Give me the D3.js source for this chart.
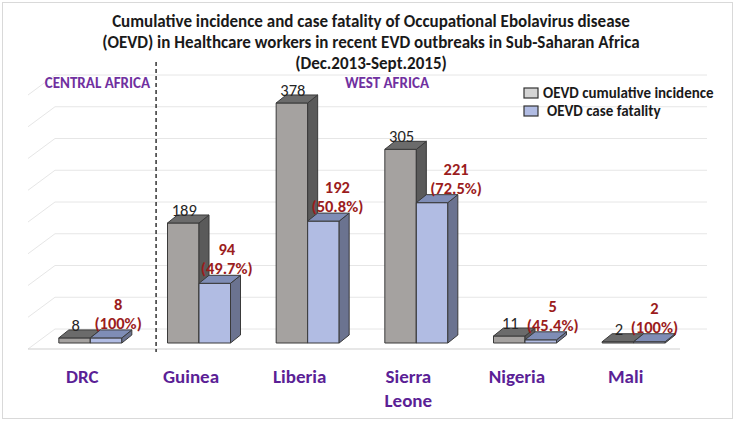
<!DOCTYPE html>
<html>
<head>
<meta charset="utf-8">
<script src="https://cdn.jsdelivr.net/npm/d3@7"></script>
<style>
  html, body { margin: 0; padding: 0; background: #fff; }
  svg { display: block; }
  text { font-family: Carlito, Lato, "Open Sans", sans-serif; }
</style>
</head>
<body>
<svg id="chart" width="735" height="421"></svg>
<script>
// ---- data ----
const categories = ["DRC", "Guinea", "Liberia", "Sierra Leone", "Nigeria", "Mali"];
const incidence = [8, 189, 378, 305, 11, 2];
const fatality = [8, 94, 192, 221, 5, 2];
const fatalityPct = ["100%", "49.7%", "50.8%", "72.5%", "45.4%", "100%"];
const regions = ["CENTRAL AFRICA", "WEST AFRICA"];
const seriesNames = ["OEVD cumulative incidence", "OEVD case fatality"];
const gridValues = [0, 50, 100, 150, 200, 250, 300, 350, 400];
const titleLines = [
  "Cumulative incidence and case fatality of Occupational Ebolavirus disease",
  "(OEVD) in Healthcare workers in recent EVD outbreaks in Sub-Saharan Africa",
  "(Dec.2013-Sept.2015)"
];
// small per-label horizontal nudges of the red fatality labels (as in the original)
const redLabelNudge = [12, 12, 14, 24, 12, 5];

// ---- layout ----
const svg = d3.select("#chart");
const W = 735, H = 421;
const baseY = 343;          // front base of bars
const plotX0 = 36, plotX1 = 688;
const depth = { dx: 10, dy: -8 };       // bar depth
const floorFront = { dx: -8, dy: 6 };   // floor front edge relative to bar front
const wallBack = { dx: 19, dy: -14 };   // back wall relative to bar front

const y = d3.scaleLinear().domain([0, 400]).range([baseY, baseY - 254]);
const x0 = d3.scaleBand().domain(categories).range([plotX0, plotX1]).paddingInner(0).paddingOuter(0);
const x1 = d3.scaleBand().domain([0, 1]).range([0, 63]);
const barOffset = (x0.bandwidth() - 63) / 2;

const colors = [
  { front: "#a5a2a0", side: "#5a5a5a", top: "#6b6b6b" },
  { front: "#b1bce3", side: "#6b7390", top: "#7f8db6" }
];

// border
svg.append("rect").attr("x", 2.5).attr("y", 2.5).attr("width", W - 5).attr("height", H - 5)
  .attr("fill", "#fff").attr("stroke", "#d9d9d9");

// title
svg.append("g").selectAll("text").data(titleLines).join("text")
  .attr("x", 371).attr("y", (d, i) => 27 + i * 21)
  .attr("text-anchor", "middle")
  .attr("font-size", 17).attr("font-weight", "bold").attr("fill", "#1a1a1a")
  .text(d => d);

// gridlines: back wall + side wall
const gBack = svg.append("g");
gridValues.forEach(v => {
  const yb = y(v) + wallBack.dy;
  gBack.append("line")
    .attr("x1", plotX0 + wallBack.dx).attr("x2", plotX1 + wallBack.dx)
    .attr("y1", yb).attr("y2", yb)
    .attr("stroke", "#e6e6e6").attr("stroke-width", 1);
  gBack.append("line")
    .attr("x1", plotX0 + floorFront.dx).attr("y1", y(v) + floorFront.dy)
    .attr("x2", plotX0 + wallBack.dx).attr("y2", yb)
    .attr("stroke", "#e6e6e6").attr("stroke-width", 1);
});
// floor front edge
svg.append("line")
  .attr("x1", plotX0 + floorFront.dx).attr("x2", plotX1 + floorFront.dx)
  .attr("y1", baseY + floorFront.dy).attr("y2", baseY + floorFront.dy)
  .attr("stroke", "#cfcfcf").attr("stroke-width", 1.2);

// bars
const gBars = svg.append("g");
categories.forEach((c, i) => {
  [incidence[i], fatality[i]].forEach((v, s) => {
    const xl = x0(c) + barOffset + x1(s);
    const xr = xl + x1.bandwidth();
    const yt = y(v);
    const col = colors[s];
    const g = gBars.append("g").attr("stroke", "#3a3a3a").attr("stroke-width", 1).attr("stroke-linejoin", "round");
    g.append("rect").attr("x", xl).attr("y", yt).attr("width", xr - xl).attr("height", baseY - yt)
      .attr("fill", col.front);
    g.append("polygon").attr("points", [
      [xr, yt], [xr + depth.dx, yt + depth.dy], [xr + depth.dx, baseY + depth.dy], [xr, baseY]
    ].map(p => p.join(",")).join(" ")).attr("fill", col.side);
    g.append("polygon").attr("points", [
      [xl, yt], [xr, yt], [xr + depth.dx, yt + depth.dy], [xl + depth.dx, yt + depth.dy]
    ].map(p => p.join(",")).join(" ")).attr("fill", col.top);
  });
});

// grey value labels
svg.append("g").selectAll("text").data(categories).join("text")
  .attr("x", (c) => x0(c) + barOffset + x1(0) + x1.bandwidth() / 2 + 1)
  .attr("y", (c, i) => y(incidence[i]) + depth.dy + 1)
  .attr("text-anchor", "middle").attr("font-size", 16.5).attr("fill", "#262626")
  .text((c, i) => incidence[i]);

// red fatality labels
const gRed = svg.append("g");
categories.forEach((c, i) => {
  const cx = x0(c) + barOffset + x1(1) + x1.bandwidth() / 2 + redLabelNudge[i];
  const yb = y(fatality[i]) + depth.dy - 1;
  const t = gRed.append("text").attr("text-anchor", "middle")
    .attr("font-size", 16.5).attr("font-weight", "bold").attr("fill", "#9b1c1c");
  t.append("tspan").attr("x", cx).attr("y", yb - 19).text(fatality[i]);
  t.append("tspan").attr("x", cx).attr("y", yb).text("(" + fatalityPct[i] + ")");
});

// region divider
const divX = (x0(categories[1]) + x0(categories[1]) + barOffset) / 2;
svg.append("line").attr("x1", divX).attr("x2", divX).attr("y1", 62).attr("y2", 352)
  .attr("stroke", "#333").attr("stroke-width", 1.5).attr("stroke-dasharray", "4,3");

// region labels
svg.append("text").attr("x", divX - 6).attr("y", 88).attr("text-anchor", "end")
  .attr("font-size", 15).attr("font-weight", "bold").attr("fill", "#7030a0").text(regions[0]);
svg.append("text").attr("x", 387).attr("y", 88).attr("text-anchor", "middle")
  .attr("font-size", 15).attr("font-weight", "bold").attr("fill", "#7030a0").text(regions[1]);

// category labels
svg.append("g").selectAll("text").data(categories).join("text")
  .attr("text-anchor", "middle").attr("font-size", 19).attr("font-weight", "bold").attr("fill", "#5b1f96")
  .each(function (c) {
    const parts = c === "Sierra Leone" ? ["Sierra", "Leone"] : [c];
    const cx = x0(c) + x0.bandwidth() / 2 + floorFront.dx;
    d3.select(this).selectAll("tspan").data(parts).join("tspan")
      .attr("x", cx).attr("y", (d, k) => 383 + k * 24).text(d => d);
  });

// legend
const lg = svg.append("g");
seriesNames.forEach((n, i) => {
  const ly = 88 + i * 18;
  lg.append("rect").attr("x", 524).attr("y", ly).attr("width", 14).attr("height", 10)
    .attr("fill", i === 0 ? "#d4d4d4" : colors[1].front).attr("stroke", "#333").attr("stroke-width", 1.2);
  lg.append("text").attr("x", 543 + i * 4).attr("y", ly + 10)
    .attr("font-size", 15).attr("font-weight", "bold").attr("fill", "#1a1a1a").text(n);
});
</script>
</body>
</html>
